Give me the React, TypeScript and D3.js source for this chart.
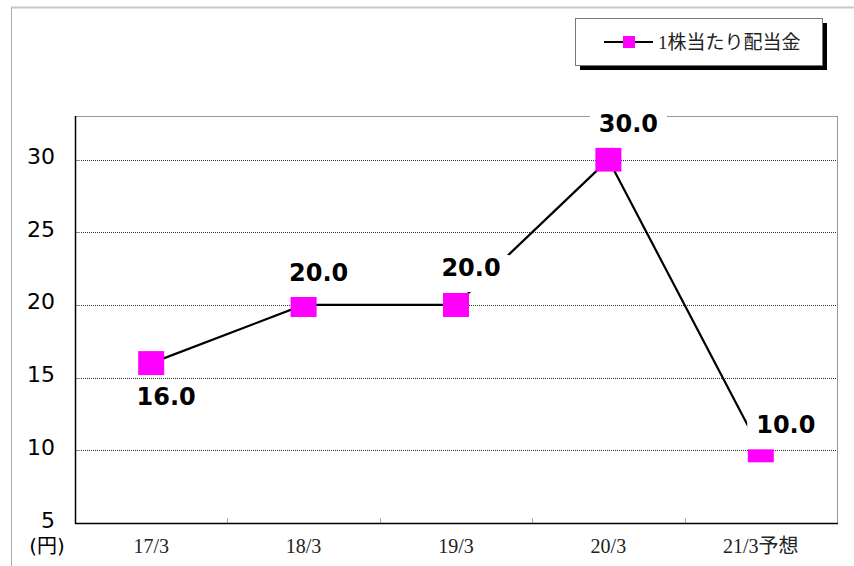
import React from "react";
import * as d3 from "d3";

const categories = ["17/3", "18/3", "19/3", "20/3", "21/3予想"];
const dividends = [16.0, 20.0, 20.0, 30.0, 10.0];
const yTicks = [5, 10, 15, 20, 25, 30];
const seriesName = "1株当たり配当金";
const unitLabel = "(円)";

// label placement offsets (layout only)
const labelOffsets: [number, number][] = [
  [15, 42],
  [15, -24],
  [15, -29],
  [20, -28],
  [25, -17],
];

const W = 854;
const H = 566;
const plot = { left: 75, right: 837, top: 116, bottom: 523 };

export default function App() {
  const x = d3
    .scalePoint<string>()
    .domain(categories)
    .range([plot.left, plot.right])
    .padding(0.5);
  const step = x.step();
  const y = d3.scaleLinear().domain([5, 33]).range([plot.bottom, plot.top]);

  const line = d3
    .line<number>()
    .x((_, i) => x(categories[i]) as number)
    .y((d) => y(d));

  const labelFont = 24;
  const textWidth = (s: string) => {
    let w = 0;
    for (const c of s) w += c === "." ? 0.38 : 0.696;
    return w * labelFont;
  };

  const markerW = 26;
  const markerH = 24;

  return (
    <svg
      width={W}
      height={H}
      style={{ position: "absolute", left: 0, top: 0, background: "#fff" }}
    >
      {/* outer frame */}
      <line x1={11} y1={7.5} x2={W} y2={7.5} stroke="#c8c8c8" strokeWidth={2} />
      <line x1={11.5} y1={7.5} x2={11.5} y2={H} stroke="#aaa" strokeWidth={1} />

      {/* gridlines */}
      {yTicks
        .filter((t) => t > 5)
        .map((t) => (
          <line
            key={"g" + t}
            x1={plot.left}
            x2={plot.right}
            y1={Math.round(y(t)) + 0.5}
            y2={Math.round(y(t)) + 0.5}
            stroke="#333"
            strokeWidth={1}
            strokeDasharray="1,1"
          />
        ))}
      {/* y ticks inside */}
      {yTicks.map((t) => (
        <line
          key={"yt" + t}
          x1={plot.left}
          x2={plot.left + 5}
          y1={Math.round(y(t)) + 0.5}
          y2={Math.round(y(t)) + 0.5}
          stroke="#888"
        />
      ))}
      {/* x ticks at band boundaries */}
      {categories.slice(1).map((c) => {
        const bx = Math.round((x(c) as number) - step / 2) + 0.5;
        return (
          <line
            key={"xt" + c}
            x1={bx}
            x2={bx}
            y1={plot.bottom}
            y2={plot.bottom - 5}
            stroke="#aaa"
          />
        );
      })}

      {/* plot border top/right */}
      <line x1={plot.left} x2={plot.right + 0.5} y1={plot.top + 0.5} y2={plot.top + 0.5} stroke="#999" />
      <line x1={plot.right + 0.5} x2={plot.right + 0.5} y1={plot.top} y2={plot.bottom} stroke="#999" />
      {/* axes */}
      <line x1={plot.left + 0.5} x2={plot.left + 0.5} y1={plot.top} y2={plot.bottom + 1} stroke="#000" strokeWidth={1.5} />
      <line x1={plot.left} x2={plot.right + 1} y1={plot.bottom + 0.5} y2={plot.bottom + 0.5} stroke="#000" strokeWidth={1.5} />

      {/* y labels */}
      {yTicks.map((t) => (
        <text
          key={"yl" + t}
          x={55}
          y={y(t) - 3}
          textAnchor="end"
          dominantBaseline="central"
          fontFamily="'DejaVu Sans', Verdana, sans-serif"
          fontSize={22}
          fill="#000"
        >
          {t}
        </text>
      ))}
      <text
        x={47}
        y={553}
        textAnchor="middle"
        fontFamily="'DejaVu Sans', 'Noto Sans CJK JP', sans-serif"
        fontSize={20}
        fill="#000"
      >
        {unitLabel}
      </text>

      {/* x labels */}
      {categories.map((c) => (
        <text
          key={"xl" + c}
          x={x(c) as number}
          y={553}
          textAnchor="middle"
          fontFamily="'Liberation Serif', 'Noto Sans CJK JP', serif"
          fontSize={20}
          fill="#222"
        >
          {c}
        </text>
      ))}

      {/* series line */}
      <path d={line(dividends) || ""} fill="none" stroke="#000" strokeWidth={2.2} />
      {/* markers */}
      {dividends.map((v, i) => (
        <rect
          key={"m" + i}
          x={(x(categories[i]) as number) - markerW / 2}
          y={y(v) - markerH / 2}
          width={markerW}
          height={markerH}
          fill="#ff00ff"
        />
      ))}

      {/* data labels with white background */}
      {dividends.map((v, i) => {
        const s = v.toFixed(1);
        const cx = (x(categories[i]) as number) + labelOffsets[i][0];
        const by = y(v) + labelOffsets[i][1];
        const tw = textWidth(s);
        return (
          <g key={"dl" + i}>
            <rect x={cx - tw / 2 - 9} y={by - 21} width={tw + 18} height={37} fill="#fff" />
            <text
              x={cx}
              y={by}
              textAnchor="middle"
              fontFamily="'DejaVu Sans', Verdana, sans-serif"
              fontWeight="bold"
              fontSize={labelFont}
              fill="#000"
            >
              {s}
            </text>
          </g>
        );
      })}

      {/* legend */}
      <rect x={580} y={23} width={247} height={47} fill="#000" />
      <rect x={575.5} y={18.5} width={247} height={47} fill="#fff" stroke="#777" />
      <line x1={604} x2={653} y1={42} y2={42} stroke="#000" strokeWidth={2} />
      <rect x={623} y={36} width={12} height={12} fill="#ff00ff" />
      <text
        x={658}
        y={48.5}
        fontFamily="'Liberation Serif', 'Noto Sans CJK JP', serif"
        fontSize={19}
        fill="#222"
      >
        {seriesName}
      </text>
    </svg>
  );
}
